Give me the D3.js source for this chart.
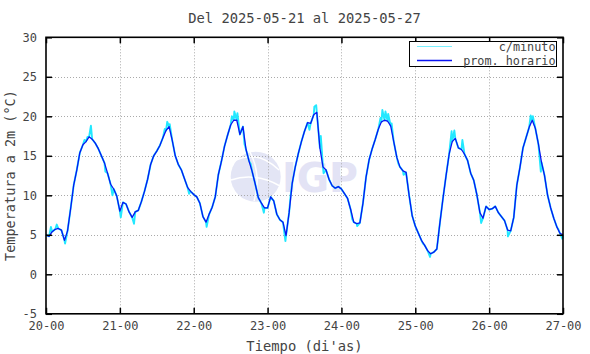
<!DOCTYPE html>
<html>
<head>
<meta charset="utf-8">
<script src="https://cdn.jsdelivr.net/npm/d3@7/dist/d3.min.js"></script>
<style>
  html, body { margin: 0; padding: 0; background: #fff; }
  svg { display: block; }
  text { font-family: "DejaVu Sans Mono", "Liberation Mono", monospace; fill: #444; }
</style>
</head>
<body>
<svg id="chart" width="590" height="354"></svg>
<script>
// ---- data (hourly means, °C), hour 0 = 20-00 ----
const day20 = [5.0, 4.8, 5.4, 5.7, 5.8, 5.6, 4.3, 5.5, 8.3, 11.3, 13.2, 15.4, 16.4, 16.8, 17.4, 17.1, 16.6, 15.9, 15.0, 14.1, 12.8, 11.4, 10.8, 9.9];
const day21 = [8.0, 9.1, 8.9, 7.9, 7.2, 7.9, 8.1, 9.2, 10.5, 12.0, 13.9, 15.0, 15.6, 16.3, 17.3, 18.2, 18.7, 17.0, 15.0, 13.9, 13.2, 12.1, 11.0, 10.5];
const day22 = [10.1, 9.8, 9.0, 7.3, 6.6, 7.6, 8.5, 9.8, 12.6, 14.3, 16.2, 17.6, 18.9, 19.5, 19.5, 17.7, 18.7, 15.8, 14.3, 13.0, 11.4, 9.7, 9.0, 8.4];
const day23 = [8.4, 9.8, 9.3, 7.6, 6.9, 6.6, 4.9, 7.8, 11.5, 13.6, 15.3, 16.8, 18.1, 19.2, 19.1, 20.2, 20.5, 16.0, 13.6, 13.2, 12.0, 11.2, 10.9, 11.1];
const day24 = [10.8, 10.2, 9.6, 8.2, 6.6, 6.4, 6.5, 9.0, 12.3, 14.5, 15.9, 17.1, 18.4, 19.3, 19.5, 19.4, 18.8, 16.8, 14.8, 13.6, 13.1, 12.9, 10.0, 7.4];
const day25 = [6.1, 5.2, 4.3, 3.7, 3.0, 2.6, 2.8, 3.2, 6.5, 9.6, 12.5, 15.2, 16.8, 17.2, 16.0, 15.8, 15.2, 14.4, 12.8, 11.9, 10.1, 7.8, 7.1, 8.6];
const day26 = [8.2, 8.3, 8.6, 7.8, 7.3, 6.8, 5.6, 5.5, 7.2, 11.3, 13.5, 16.0, 17.3, 18.6, 19.5, 18.5, 16.5, 14.2, 12.5, 10.0, 8.4, 7.1, 6.0, 5.2];
const day27 = [5.0];

// minute-data excursions visible around the hourly line: [hour, °C]
const minuteSpikes = [
  [1.6, 6.0], [3.5, 6.3], [6.2, 3.9], [12.5, 17.0], [13.5, 17.4], [14.6, 18.8], [19.3, 13.0], [21.6, 10.0],
  [24.3, 7.2], [28.6, 6.4], [38.6, 18.4], [39.4, 19.3], [40.2, 19.0], [46.5, 10.2], [52.2, 6.0],
  [60.4, 20.0], [61.2, 20.6], [62.2, 20.4], [64.5, 16.5], [66.5, 14.0], [70.8, 7.8], [77.8, 4.2],
  [79.5, 10.0], [85.6, 18.3], [87.2, 21.2], [87.8, 21.4], [89.3, 17.5], [90.2, 12.8], [99.5, 7.0],
  [101.1, 6.1], [108.7, 19.8], [109.3, 20.8], [110.3, 20.6], [111.2, 20.3], [112.3, 19.1], [114.5, 14.0],
  [116.2, 12.6], [122.5, 3.9], [124.8, 2.2], [131.8, 18.1], [132.7, 18.2], [135.3, 17.0], [141.4, 6.5],
  [150.1, 4.8], [157.5, 20.1], [158.2, 20.0], [160.8, 13.0], [166.5, 5.7], [167.8, 4.5]
];

const xTickHours = [0, 24, 48, 72, 96, 120, 144, 168];
const xTickLabels = ["20-00", "21-00", "22-00", "23-00", "24-00", "25-00", "26-00", "27-00"];
const yTicks = [-5, 0, 5, 10, 15, 20, 25, 30];
const titleText = "Del 2025-05-21 al 2025-05-27";
const xTitle = "Tiempo (di'as)";
const yTitle = "Temperatura a 2m (°C)";
const legendLabels = ["c/minuto", "prom. horario"];

// ---- build ----
const hourlyVals = [].concat(day20, day21, day22, day23, day24, day25, day26, day27);
const hourly = hourlyVals.map((t, i) => ({ h: i, t }));
const minute = hourly.concat(minuteSpikes.map(([h, t]) => ({ h, t }))).sort((a, b) => a.h - b.h);

const svg = d3.select("#chart");
const L = 46, R = 563, T = 37.3, B = 313.8;
const x = d3.scaleLinear().domain([0, 168]).range([L, R]);
const y = d3.scaleLinear().domain([-5, 30]).range([B, T]);

// watermark
const wm = svg.append("g").attr("opacity", 0.9);
wm.append("circle").attr("cx", 255.7).attr("cy", 176.7).attr("r", 25).attr("fill", "#e1e3f5");
wm.append("path").attr("d", "M236,160 Q258,150 279,170").attr("fill", "none").attr("stroke", "#fff").attr("stroke-width", 1.5);
wm.append("path").attr("d", "M231,180 Q255,172 280,186").attr("fill", "none").attr("stroke", "#fff").attr("stroke-width", 1.5);
wm.append("path").attr("d", "M250,152 Q262,176 254,201").attr("fill", "none").attr("stroke", "#fff").attr("stroke-width", 1.5);
wm.append("text").attr("x", 282).attr("y", 191.7)
  .style("font-family", "'DejaVu Sans', sans-serif").style("font-weight", "bold").style("font-size", "41px")
  .style("fill", "#e1e1f4").attr("textLength", 76).attr("lengthAdjust", "spacingAndGlyphs").text("IGP");

// grid
const grid = svg.append("g").attr("stroke", "#aaa").attr("stroke-width", 1).attr("stroke-dasharray", "1,2");
grid.selectAll("line.gx").data(xTickHours.slice(1, -1)).join("line")
  .attr("x1", d => Math.round(x(d)) + 0.5).attr("x2", d => Math.round(x(d)) + 0.5).attr("y1", T).attr("y2", B);
grid.selectAll("line.gy").data(yTicks.slice(1, -1)).join("line")
  .attr("y1", d => Math.round(y(d)) + 0.5).attr("y2", d => Math.round(y(d)) + 0.5).attr("x1", L).attr("x2", R);

// lines
const line = d3.line().x(d => x(d.h)).y(d => y(d.t));
svg.append("path").datum(minute).attr("d", line).attr("fill", "none")
  .attr("stroke", "#22e8ff").attr("stroke-width", 1.9).attr("stroke-linejoin", "round");
svg.append("path").datum(hourly).attr("d", line).attr("fill", "none")
  .attr("stroke", "#0a14f2").attr("stroke-width", 1.3).attr("stroke-linejoin", "round");

// axes
const fmtX = d => xTickLabels[xTickHours.indexOf(d)];
const ax = svg.append("g");
const gb = ax.append("g").attr("transform", `translate(0,${B})`)
  .call(d3.axisBottom(x).tickValues(xTickHours).tickFormat(fmtX).tickSize(-6).tickPadding(8));
const gt = ax.append("g").attr("transform", `translate(0,${T})`)
  .call(d3.axisTop(x).tickValues(xTickHours).tickFormat("").tickSize(-6));
const gl = ax.append("g").attr("transform", `translate(${L},0)`)
  .call(d3.axisLeft(y).tickValues(yTicks).tickFormat(d => String(d)).tickSize(-6).tickPadding(9));
const gr = ax.append("g").attr("transform", `translate(${R},0)`)
  .call(d3.axisRight(y).tickValues(yTicks).tickFormat("").tickSize(-6));
[gb, gt, gl, gr].forEach(g => {
  g.select(".domain").remove();
  g.selectAll(".tick line").attr("stroke", "#000").attr("stroke-width", 1.5);
  g.selectAll(".tick text").style("font-family", "'DejaVu Sans Mono', monospace").style("font-size", "12px").attr("fill", "#444");
});
svg.append("rect").attr("x", L).attr("y", T).attr("width", R - L).attr("height", B - T)
  .attr("fill", "none").attr("stroke", "#000").attr("stroke-width", 1.6);

// titles
svg.append("text").attr("x", (L + R) / 2).attr("y", 23).attr("text-anchor", "middle")
  .style("font-size", "13.8px").text(titleText);
svg.append("text").attr("x", (L + R) / 2).attr("y", 351).attr("text-anchor", "middle")
  .style("font-size", "13.8px").text(xTitle);
svg.append("text").attr("transform", `translate(15,${(T + B) / 2}) rotate(-90)`).attr("text-anchor", "middle")
  .style("font-size", "13.5px").text(yTitle);

// legend
const lg = svg.append("g");
lg.append("rect").attr("x", 409.5).attr("y", 41.5).attr("width", 147).attr("height", 25)
  .attr("fill", "#fff").attr("stroke", "#000").attr("stroke-width", 1);
lg.append("line").attr("x1", 417).attr("x2", 452).attr("y1", 46.5).attr("y2", 46.5)
  .attr("stroke", "#22e8ff").attr("stroke-width", 1).attr("opacity", 0.6);
lg.append("line").attr("x1", 417).attr("x2", 452).attr("y1", 60.5).attr("y2", 60.5)
  .attr("stroke", "#0a14f2").attr("stroke-width", 1.3);
lg.selectAll("text").data(legendLabels).join("text")
  .attr("x", 555.5).attr("y", (d, i) => 50.5 + i * 14).attr("text-anchor", "end")
  .style("font-size", "11.8px").text(d => d);
</script>
</body>
</html>
